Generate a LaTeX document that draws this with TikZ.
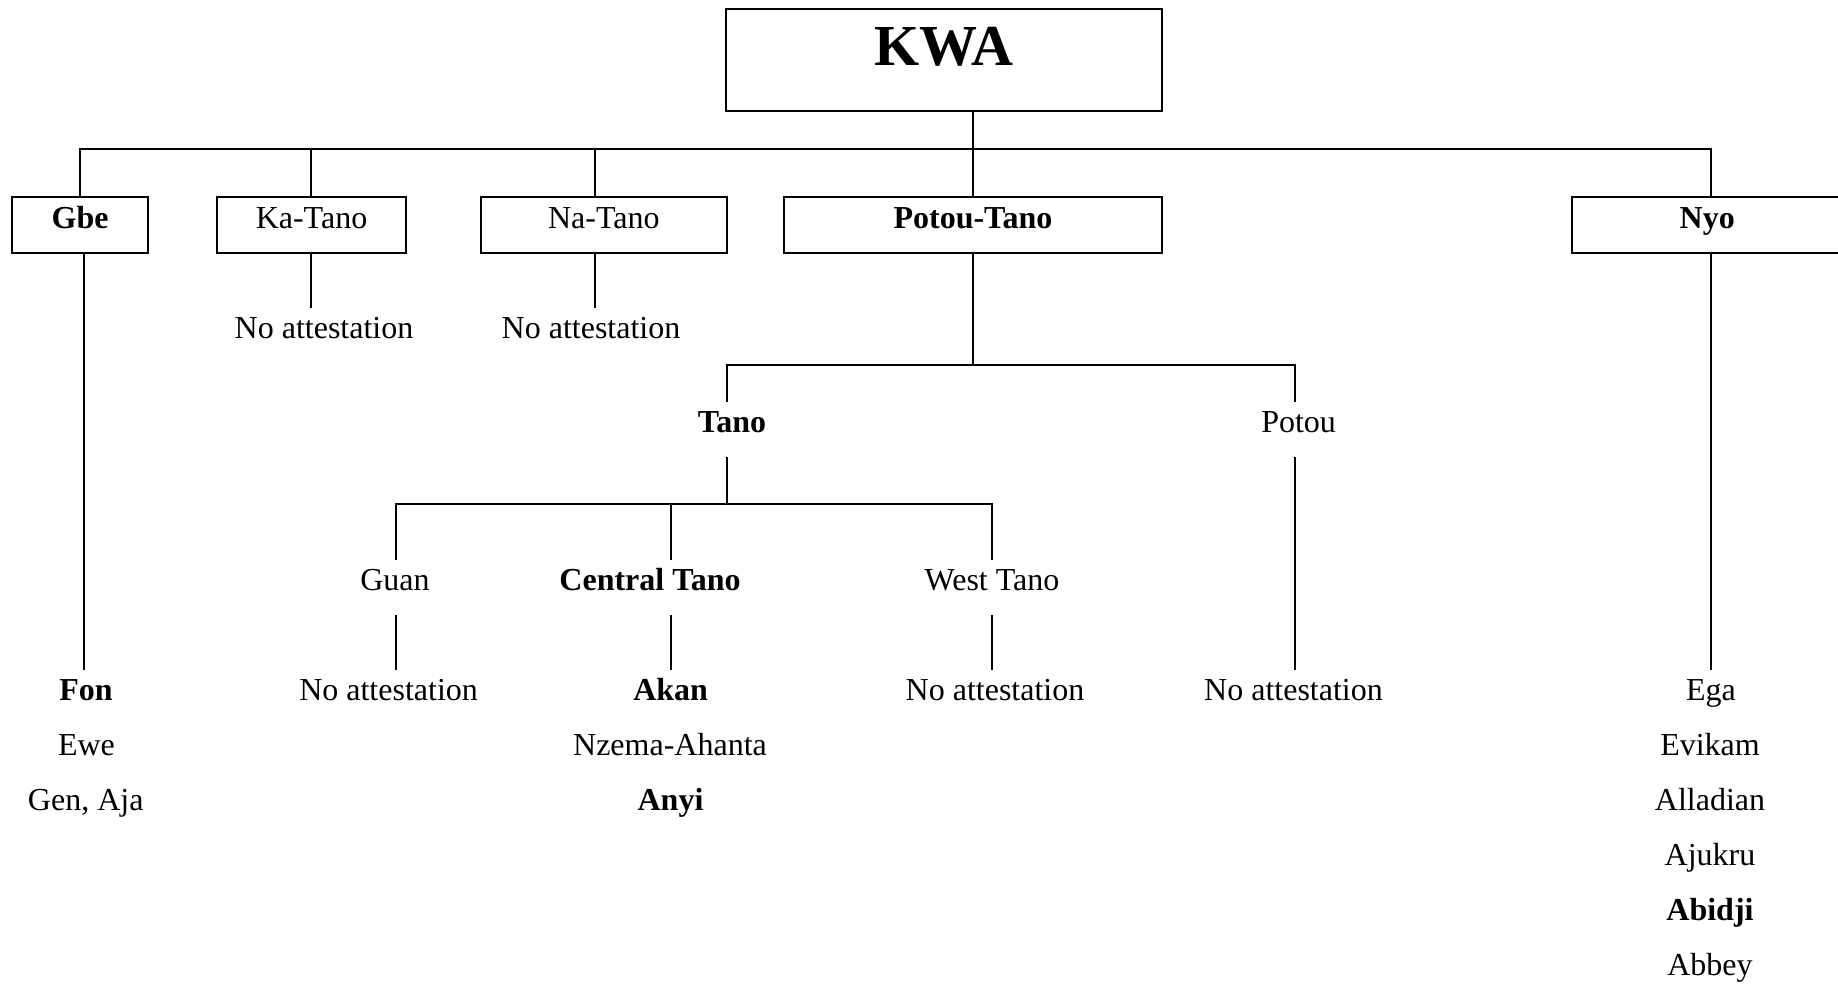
\documentclass[tikz,border=0pt]{standalone}
\usepackage{fontspec}
\setmainfont{Liberation Serif}
\begin{document}
\begin{tikzpicture}[x=0.5pt,y=-0.5pt,
  every node/.style={font=\fontsize{16}{19}\selectfont, anchor=base, inner xsep=0pt},
  famlabel/.style={text height=11pt, text depth=8.5pt, inner ysep=4pt},
  fambox/.style={draw, line width=1pt, text height=11pt, text depth=7.5pt, inner ysep=4.8pt},
  tree/.style={line width=1pt}
]
\useasboundingbox (0,0) rectangle (1838,985);

% root
\node[draw, line width=1pt, minimum width=217.9pt, text height=28pt, text depth=22.85pt,
      inner ysep=0pt, font=\fontsize{29}{34}\selectfont\bfseries] (kwa) at (944,65) {KWA};

% first level boxes
\node[fambox, minimum width=67.8pt, font=\fontsize{16}{19}\selectfont\bfseries] (gbe) at (80.1,228.3) {Gbe};
\node[fambox, minimum width=94.5pt] (katano) at (311.5,228.3) {Ka-Tano};
\node[fambox, minimum width=123.2pt] (natano) at (603.8,228.3) {Na-Tano};
\node[fambox, minimum width=189pt, font=\fontsize{16}{19}\selectfont\bfseries] (pottano) at (973,228.3) {Potou-Tano};
\node[fambox, minimum width=135.6pt, font=\fontsize{16}{19}\selectfont\bfseries] (nyo) at (1707.2,228.3) {Nyo};

% second level
\node[famlabel] (na1) at (324,338.3) {No attestation};
\node[famlabel] (na2) at (591,338.3) {No attestation};
\node[famlabel, font=\fontsize{16}{19}\selectfont\bfseries] (tano) at (732,432) {Tano};
\node[famlabel] (potou) at (1298.6,432) {Potou};

% third level
\node[famlabel] (guan) at (395,590) {Guan};
\node[famlabel, font=\fontsize{16}{19}\selectfont\bfseries] (ctano) at (650,590) {Central Tano};
\node[famlabel] (wtano) at (992,590) {West Tano};

% attested languages
\node[famlabel, font=\fontsize{16}{19}\selectfont\bfseries] (fon) at (86,700) {Fon};
\node[famlabel] (ewe) at (86.5,755) {Ewe};
\node[famlabel] (genaja) at (85.7,810) {Gen, Aja};

\node[famlabel] (na3) at (388.6,700) {No attestation};

\node[famlabel, font=\fontsize{16}{19}\selectfont\bfseries] (akan) at (670.7,700) {Akan};
\node[famlabel] (nzema) at (670,755) {Nzema-Ahanta};
\node[famlabel, font=\fontsize{16}{19}\selectfont\bfseries] (anyi) at (670.5,810) {Anyi};

\node[famlabel] (na4) at (995,700) {No attestation};
\node[famlabel] (na5) at (1293.5,700) {No attestation};

\node[famlabel] (ega) at (1711,700) {Ega};
\node[famlabel] (evikam) at (1710,755) {Evikam};
\node[famlabel] (alladian) at (1710,810) {Alladian};
\node[famlabel] (ajukru) at (1710,865) {Ajukru};
\node[famlabel, font=\fontsize{16}{19}\selectfont\bfseries] (abidji) at (1710,920) {Abidji};
\node[famlabel] (abbey) at (1710,975) {Abbey};

% junction points
\coordinate (bGbe) at (80.4,148.7);
\coordinate (bKa)  at (311,148.7);
\coordinate (bNa)  at (595,148.7);
\coordinate (bNyo) at (1711.3,148.7);
\coordinate (xGbe) at (83.9,0);
\coordinate (pTano)  at (726.8,365);
\coordinate (pPotou) at (1294.7,365);
\coordinate (tGuan)  at (396,504);
\coordinate (tCen)   at (671,504);
\coordinate (tWest)  at (992,504);

% KWA branches
\draw[tree] (kwa.south -| pottano.north) -- (pottano.north);
\draw[tree] (bGbe |- gbe.north) -- (bGbe) -- (bNyo) -- (bNyo |- nyo.north);
\draw[tree] (bKa) -- (bKa |- katano.north);
\draw[tree] (bNa) -- (bNa |- natano.north);

% below the first level
\draw[tree] (xGbe |- gbe.south) -- (xGbe |- fon.north);
\draw[tree] (bKa |- katano.south) -- (bKa |- na1.north);
\draw[tree] (bNa |- natano.south) -- (bNa |- na2.north);
\draw[tree] (bNyo |- nyo.south) -- (bNyo |- ega.north);

% Potou-Tano split
\draw[tree] (pottano.south) -- (pottano.south |- pTano);
\draw[tree] (pTano |- tano.north) -- (pTano) -- (pPotou) -- (pPotou |- potou.north);

% Tano split
\draw[tree] (pTano |- tano.south) -- (pTano |- tGuan);
\draw[tree] (tGuan |- guan.north) -- (tGuan) -- (tWest) -- (tWest |- wtano.north);
\draw[tree] (tCen) -- (tCen |- ctano.north);

% down to the languages
\draw[tree] (tGuan |- guan.south) -- (tGuan |- na3.north);
\draw[tree] (tCen |- ctano.south) -- (tCen |- akan.north);
\draw[tree] (tWest |- wtano.south) -- (tWest |- na4.north);
\draw[tree] (pPotou |- potou.south) -- (pPotou |- na5.north);
\end{tikzpicture}
\end{document}
